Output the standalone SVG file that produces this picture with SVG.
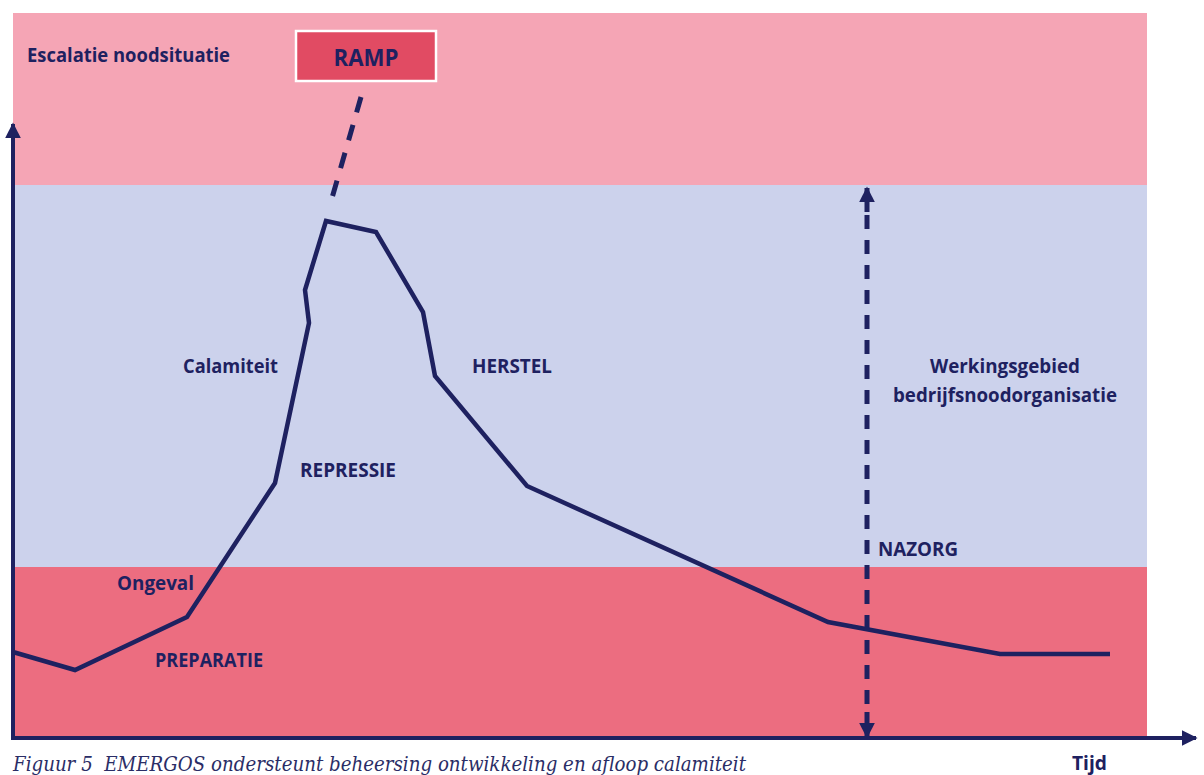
<svg xmlns="http://www.w3.org/2000/svg" width="1204" height="775" viewBox="0 0 1204 775">
<defs>
<style>
.lbl{font-family:"Open Sans","Liberation Sans",sans-serif;font-weight:bold;font-size:19px;fill:#1e2160}
.cap{font-family:"DejaVu Serif","Liberation Serif",serif;font-style:italic;font-size:21px;fill:#2a2d66}
.ax{stroke:#1e2160;stroke-width:4;fill:none}
.dash{stroke:#1e2160;stroke-width:5;fill:none;stroke-dasharray:16 13}
</style>
<marker id="ah" viewBox="0 0 10 10" refX="9" refY="5" markerWidth="4" markerHeight="4" orient="auto" markerUnits="strokeWidth">
<path d="M0,0 L10,5 L0,10 z" fill="#1e2160"/>
</marker>
<marker id="ah2" viewBox="0 0 10 10" refX="9" refY="5" markerWidth="3.2" markerHeight="3.2" orient="auto" markerUnits="strokeWidth">
<path d="M0,0 L10,5 L0,10 z" fill="#1e2160"/>
</marker>
</defs>
<rect width="1204" height="775" fill="#ffffff"/>
<g id="bands">
<rect x="13" y="13" width="1134" height="172" fill="#f5a5b5"/>
<rect x="13" y="185" width="1134" height="382" fill="#ccd2ec"/>
<rect x="13" y="567" width="1134" height="171" fill="#ec6d80"/>
</g>
<g id="ramp">
<rect x="296" y="31" width="140" height="50" fill="#e14b63" stroke="#ffffff" stroke-width="2.5"/>
<text x="366" y="66" text-anchor="middle" class="lbl" style="font-size:24px" textLength="65" lengthAdjust="spacingAndGlyphs">RAMP</text>
</g>
<g id="connectors">
<path class="ax" d="M13,740 L13,124" marker-end="url(#ah)"/>
<path class="ax" d="M11,738 L1196,738" marker-end="url(#ah)"/>
<path d="M13,652 L75,670 L187,617 L275,483 L309,323 L305,290 L326,221 L376,232 L423,312 L435,376 L527,486 L828,622 L1000,654 L1110,654" fill="none" stroke="#1e2160" stroke-width="4.5" stroke-linejoin="miter"/>
<path class="dash" d="M361,97 L330,205"/>
<path class="dash" d="M867,215 L867,712" style="stroke-dasharray:14 11"/>
<path d="M867,212 L867,188" stroke="#1e2160" stroke-width="5" marker-end="url(#ah2)"/>
<path d="M867,712 L867,737" stroke="#1e2160" stroke-width="5" marker-end="url(#ah2)"/>
</g>
<g id="labels">
<text x="27" y="62" class="lbl" textLength="203" lengthAdjust="spacingAndGlyphs">Escalatie noodsituatie</text>
<text x="183" y="373" class="lbl" textLength="95" lengthAdjust="spacingAndGlyphs">Calamiteit</text>
<text x="472" y="373" class="lbl" textLength="80" lengthAdjust="spacingAndGlyphs">HERSTEL</text>
<text x="300" y="477" class="lbl" textLength="96" lengthAdjust="spacingAndGlyphs">REPRESSIE</text>
<text x="930" y="373" class="lbl" textLength="150" lengthAdjust="spacingAndGlyphs">Werkingsgebied</text>
<text x="893" y="402" class="lbl" textLength="224" lengthAdjust="spacingAndGlyphs">bedrijfsnoodorganisatie</text>
<text x="878" y="556" class="lbl" textLength="80" lengthAdjust="spacingAndGlyphs">NAZORG</text>
<text x="117" y="590" class="lbl" textLength="77" lengthAdjust="spacingAndGlyphs">Ongeval</text>
<text x="155" y="667" class="lbl" textLength="108" lengthAdjust="spacingAndGlyphs">PREPARATIE</text>
<text x="1072" y="770" class="lbl" textLength="35" lengthAdjust="spacingAndGlyphs">Tijd</text>
<text x="13" y="771" class="cap" textLength="733" lengthAdjust="spacingAndGlyphs">Figuur 5&#160; EMERGOS ondersteunt beheersing ontwikkeling en afloop calamiteit</text>
</g>
</svg>
